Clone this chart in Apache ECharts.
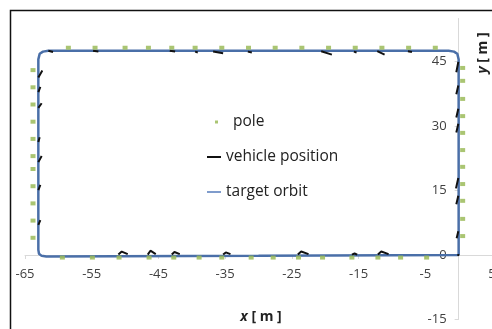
<!DOCTYPE html>
<html>
<head>
<meta charset="utf-8">
<script src="https://cdn.jsdelivr.net/npm/echarts@6/dist/echarts.min.js"></script>
<style>html,body{margin:0;padding:0;background:#fff}#c{width:492px;height:329px}</style>
</head>
<body>
<div id="c"></div>
<script>
// ---- axis ranges ----
const xMin = -65, xMax = 5, xStep = 10;
const yMin = -15, yMax = 55, yStep = 15;

// ---- target orbit (rounded rectangle path) ----
const orbitX = [0, 0, -0.2, -0.7, -1.5, -61.5, -62.3, -62.8, -63, -63, -62.9, -62.5, -61.8, -30, 0];
const orbitY = [0, 45.5, 46.8, 47.3, 47.5, 47.5, 47.3, 46.8, 45.5, 1.2, 0.3, -0.2, -0.35, -0.2, 0];

// ---- poles ----
const poleTopX = [-58.5, -54.5, -50, -46.5, -43, -39.5, -35.5, -31.5, -27.5, -23.5, -19.5, -15.5, -11.5, -7.5, -3.5];
const poleTopY = [48.2, 48.2, 48.2, 48.2, 48.2, 48.2, 48.2, 48.2, 48.2, 48.2, 48.2, 48.2, 48.2, 48.2, 48.2];
const poleBottomX = [-59.4, -54.9, -50.9, -46.4, -42.7, -38.9, -35.5, -31.1, -27.8, -24, -20.4, -16, -12.1, -8.7, -4.8];
const poleBottomY = [-0.6, -0.6, -0.6, -0.6, -0.6, -0.6, -0.6, -0.6, -0.6, -0.6, -0.6, -0.6, -0.6, -0.6, -0.6];
const poleLeftX = [-63.8, -63.8, -63.8, -63.8, -63.8, -63.8, -63.8, -63.8, -63.8, -63.8, -63.8];
const poleLeftY = [43, 39, 35, 31, 27, 23, 20, 16, 12, 8, 4];
const poleRightX = [0.6, 0.6, 0.6, 0.6, 0.6, 0.6, 0.6, 0.6, 0.6, 0.6, 0.6];
const poleRightY = [43.5, 40.5, 36.3, 32.3, 28.4, 24.4, 20.5, 16.5, 12.6, 8.4, 4.4];

// ---- vehicle position (short recorded track pieces, null = gap) ----
const vehicleX = [
  -63.0, -62.4, null, -63.0, -62.7, null, -63.0, -62.5, null, -63.0, -62.8, null,
  -63.0, -62.5, null, -63.0, -62.7, null, -63.0, -62.7, null,
  -0.35, -0.05, null, -0.35, -0.05, null, -0.35, -0.05, null, -0.35, -0.05, null,
  -0.4, -0.05, null, -0.35, -0.05, null, -0.3, -0.05, null,
  -61.5, -60.8, null, -54.8, -54.0, null, -43.3, -42.5, null, -39.5, -39.1, null,
  -36.8, -35.3, null, -31.6, -31.0, null, -20.6, -19.0, null, -15.7, -15.3, null,
  -12.2, -11.1, null, -7.6, -7.0, null,
  -51.0, -50.5, -49.6, null, -46.6, -46.2, -45.4, null, -43.0, -42.6, -41.8, null,
  -35.3, -34.9, -34.2, null, -24.1, -23.6, -22.5, null, -16.0, -15.6, -15.2, null,
  -12.1, -11.6, -10.5, null, -0.2, 0.1
];
const vehicleY = [
  41.3, 42.9, null, 37.9, 39.1, null, 34.2, 35.3, null, 26.3, 27.4, null,
  21.6, 23.0, null, 15.1, 16.3, null, 7.0, 8.1, null,
  42.5, 44.9, null, 37.4, 39.4, null, 32.0, 34.0, null, 28.5, 30.5, null,
  15.5, 17.9, null, 11.8, 13.8, null, 3.9, 5.5, null,
  47.5, 47.2, null, 47.5, 47.3, null, 47.5, 47.3, null, 47.3, 47.1, null,
  47.3, 46.9, null, 47.3, 47.1, null, 47.4, 46.6, null, 47.3, 47.1, null,
  47.4, 46.6, null, 47.4, 47.2, null,
  0.1, 0.8, 0.2, null, 0.1, 1.0, 0.2, null, 0.1, 0.7, 0.2, null,
  0.1, 0.6, 0.2, null, 0.1, 0.8, 0.2, null, 0.1, 0.35, 0.1, null,
  0.1, 0.8, 0.2, null, 0.0, 0.0
];

// ---- legend labels ----
const seriesNames = ['pole', 'vehicle position', 'target orbit'];

const pair = (xs, ys) => xs.map((x, i) => (x === null ? ['-', '-'] : [x, ys[i]]));
const poles = [].concat(
  pair(poleTopX, poleTopY), pair(poleBottomX, poleBottomY),
  pair(poleLeftX, poleLeftY), pair(poleRightX, poleRightY)
);

const W = 492, H = 329;
const GRID_LEFT = 25, GRID_RIGHT = 0, GRID_TOP = 18.5, GRID_BOTTOM = 9.5;
const plotW = W - GRID_LEFT - GRID_RIGHT;
const plotH = H - GRID_TOP - GRID_BOTTOM;
// axes cross at the origin: y axis at x = 0, x axis at y = 0
const yAxisOffset = -((0 - xMin) / (xMax - xMin)) * plotW;
const xAxisOffset = -((0 - yMin) / (yMax - yMin)) * plotH;

const FONT = '"Open Sans", "Noto Sans", sans-serif';
const chart = echarts.init(document.getElementById('c'), null, { renderer: 'canvas' });
chart.setOption({
  animation: false,
  backgroundColor: '#fff',
  grid: { left: GRID_LEFT, right: GRID_RIGHT, top: GRID_TOP, bottom: GRID_BOTTOM, outerBoundsMode: 'none', containLabel: false },
  xAxis: {
    type: 'value', min: xMin, max: xMax, interval: xStep, position: 'bottom', offset: xAxisOffset,
    axisLine: { onZero: false, lineStyle: { color: '#d9d9d9', width: 1 } },
    axisTick: { show: true, length: 4, lineStyle: { color: '#d9d9d9' } },
    axisLabel: { fontFamily: FONT, fontSize: 13, color: '#404040', margin: 13, hideOverlap: false },
    splitLine: { show: false }
  },
  yAxis: {
    type: 'value', min: yMin, max: yMax, interval: yStep, position: 'left', offset: yAxisOffset,
    axisLine: { onZero: false, lineStyle: { color: '#d9d9d9', width: 1 } },
    axisTick: { show: true, length: 4, lineStyle: { color: '#d9d9d9' } },
    axisLabel: { fontFamily: FONT, fontSize: 13, color: '#404040', margin: 12, showMaxLabel: false },
    splitLine: { show: false }
  },
  legend: [
    { data: [seriesNames[0]], left: 215, top: 114, padding: 0, icon: 'rect', itemWidth: 3, itemHeight: 3,
      textStyle: { fontFamily: FONT, fontSize: 15.5, color: '#222', padding: [0, 0, 0, 10] } },
    { data: [seriesNames[1]], left: 207, top: 149, padding: 0, icon: 'rect', itemWidth: 14, itemHeight: 2,
      textStyle: { fontFamily: FONT, fontSize: 15.5, color: '#222' } },
    { data: [seriesNames[2]], left: 207, top: 184, padding: 0, icon: 'rect', itemWidth: 14, itemHeight: 2,
      textStyle: { fontFamily: FONT, fontSize: 15.5, color: '#222' } }
  ],
  series: [
    {
      name: seriesNames[2], type: 'line', data: pair(orbitX, orbitY),
      showSymbol: false, symbol: 'none', lineStyle: { color: '#4a6fa8', width: 2.5 },
      itemStyle: { color: '#7f9ccc' }, z: 2
    },
    {
      name: seriesNames[1], type: 'line', data: pair(vehicleX, vehicleY),
      showSymbol: false, symbol: 'none', connectNulls: false,
      lineStyle: { color: '#111', width: 2 }, itemStyle: { color: '#111' }, z: 3
    },
    {
      name: seriesNames[0], type: 'scatter', data: poles, symbol: 'rect', symbolSize: [5, 4],
      itemStyle: { color: '#9bbb59', opacity: 0.85 }, z: 4
    }
  ],
  graphic: [
    { type: 'rect', shape: { x: 10.5, y: 10.5, width: 600, height: 600 }, style: { fill: 'none', stroke: '#111', lineWidth: 1.5 }, z: 10 },
    { type: 'text', x: 261, y: 317, z: 10,
      style: { text: '{i|x} [ m ]', fontFamily: FONT, fontSize: 14, fontWeight: 'bold', fill: '#222', align: 'center', verticalAlign: 'middle',
        rich: { i: { fontStyle: 'italic', fontWeight: 'bold', fontFamily: FONT, fontSize: 14, fill: '#222' } } } },
    { type: 'text', x: 483, y: 53, rotation: Math.PI / 2, z: 10,
      style: { text: '{i|y} [ m ]', fontFamily: FONT, fontSize: 14, fontWeight: 'bold', fill: '#222', align: 'center', verticalAlign: 'middle',
        rich: { i: { fontStyle: 'italic', fontWeight: 'bold', fontFamily: FONT, fontSize: 14, fill: '#222' } } } }
  ]
});
</script>
</body>
</html>
